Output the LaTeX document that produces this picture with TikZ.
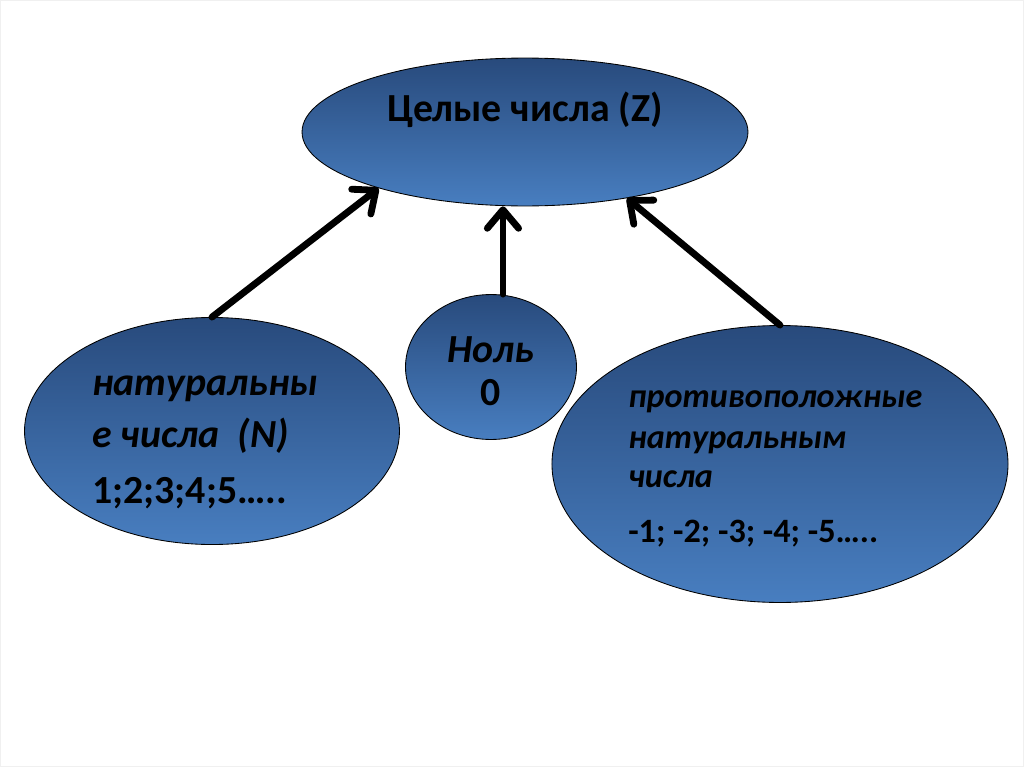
\documentclass[tikz,border=0pt]{standalone}
\usepackage{fontspec}
\setmainfont{Carlito}
\usetikzlibrary{shapes.geometric,arrows.meta}
\definecolor{btop}{RGB}{40,74,124}
\definecolor{bbot}{RGB}{72,126,192}
\begin{document}
\begin{tikzpicture}[x=0.703pt,y=-0.703pt,
  blob/.style={ellipse, draw=black, line width=0.6pt, top color=btop, bottom color=bbot, inner sep=0pt},
  arr/.style={line width=4.8pt, line cap=round, -{Straight Barb[length=13pt,width=22pt,line cap=round,line join=round]}},
  big/.style={font=\bfseries\fontsize{28}{32}\selectfont, inner sep=0pt},
  bigit/.style={font=\bfseries\itshape\fontsize{28}{32}\selectfont, inner sep=0pt},
  mid/.style={font=\bfseries\fontsize{24}{28}\selectfont, inner sep=0pt},
  midit/.style={font=\bfseries\itshape\fontsize{24}{28}\selectfont, inner sep=0pt}]
\fill[white] (0,0) rectangle (1024,767);
\draw[black!6, line width=0.7pt] (0.5,0.5) rectangle (1023.5,766.5);
\useasboundingbox (0,0) rectangle (1024,767);
% shapes
\node[blob, minimum width=313.5pt, minimum height=104pt] (top) at (525,132) {};
\node[blob, minimum width=263.6pt, minimum height=159.6pt] (left) at (212,431) {};
\node[blob, minimum width=120.2pt, minimum height=101.9pt] (zero) at (491,367) {};
\node[blob, minimum width=320.6pt, minimum height=194.7pt] (right) at (780,464) {};
% texts
\node[big, anchor=base] (ttop) at (525,121) {Целые числа (Z)};
\node[bigit, anchor=base west] (l1) at (92,395) {натуральны};
\node[bigit, anchor=base west] (l2) at (92,447) {е числа\ \ (N)};
\node[big, anchor=base west] (l3) at (92,503) {1;2;3;4;5…..};
\node[bigit, anchor=base] (z1) at (491,362) {Ноль};
\node[big, anchor=base] (z2) at (491,405) {0};
\node[midit, anchor=base west] (r1) at (628,407) {противоположные};
\node[midit, anchor=base west] (r2) at (628,448) {натуральным};
\node[midit, anchor=base west] (r3) at (628,487) {числа};
\node[mid, anchor=base west] (r4) at (628,542) {-1; -2; -3; -4; -5…..};
% connectors
\draw[arr] (left.north) -- (top.201);
\draw[arr] ([xshift=8.4pt]zero.north) -- ([xshift=8.4pt]zero.north |- top.south);
\draw[arr] (right.north) -- (top.-33);
\end{tikzpicture}
\end{document}
